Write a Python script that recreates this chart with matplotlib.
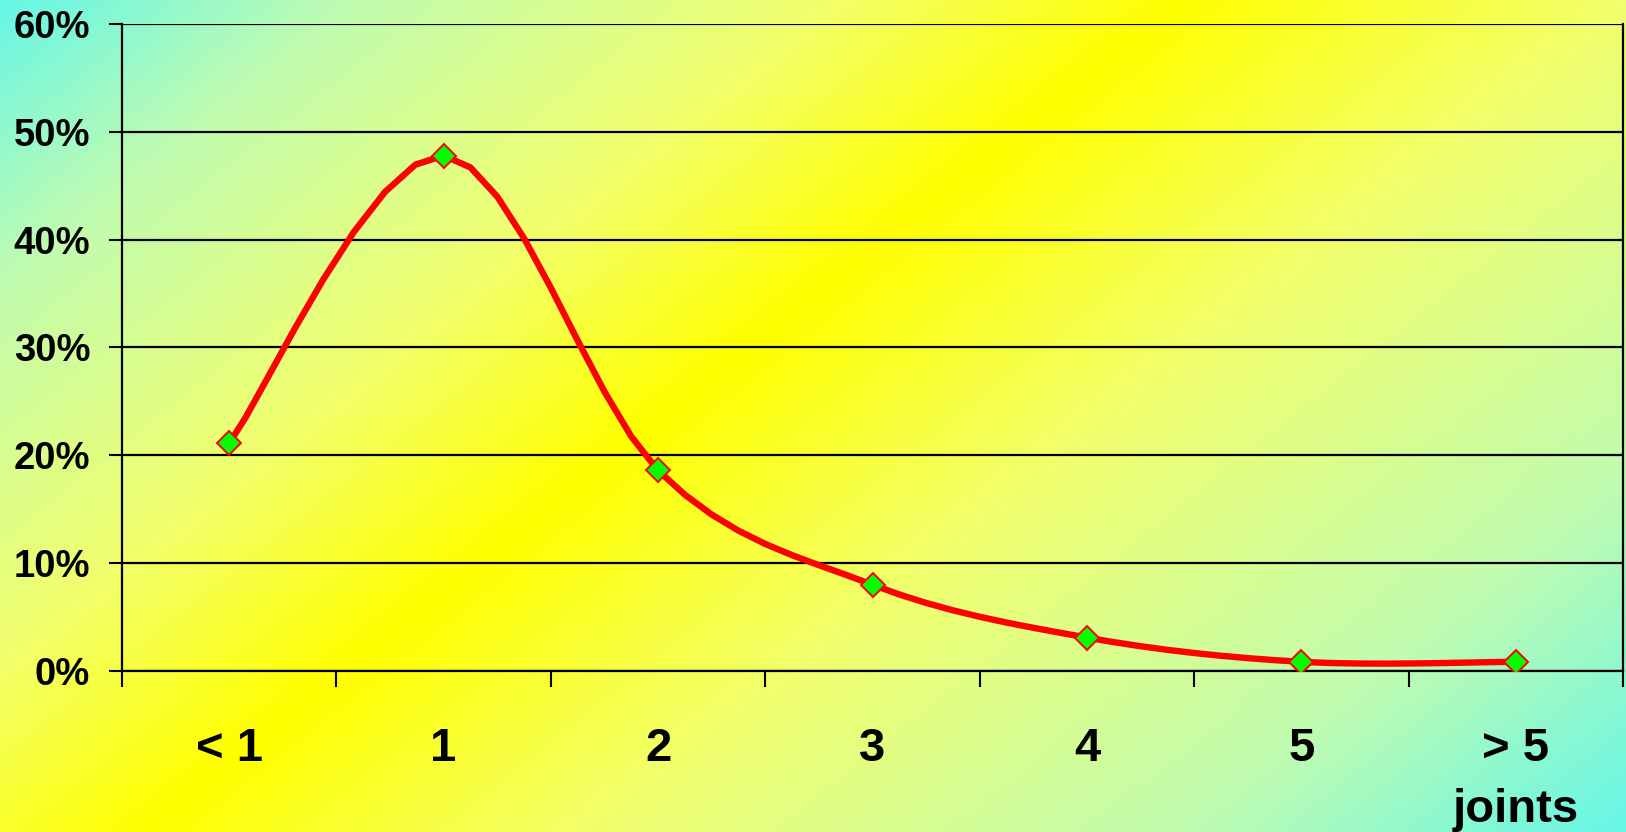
import numpy as np
import matplotlib
matplotlib.use("Agg")
import matplotlib.pyplot as plt
from matplotlib.colors import LinearSegmentedColormap
from matplotlib.ticker import FixedLocator, PercentFormatter

# Share of cases by number of joints
categories = ["< 1", "1", "2", "3", "4", "5", "> 5\njoints"]
shares = [0.211, 0.478, 0.186, 0.080, 0.031, 0.0085, 0.0085]

plt.rcParams['font.family'] = ['Liberation Sans', 'DejaVu Sans']
plt.rcParams['font.weight'] = 'bold'


def smooth_curve(xs, ys, steps=10):
    # Catmull-Rom style smoothing like office chart "smoothed line"
    xs = np.asarray(xs, float)
    ys = np.asarray(ys, float)
    px = np.concatenate([[xs[0]], xs, [xs[-1]]])
    py = np.concatenate([[ys[0]], ys, [ys[-1]]])
    out_x, out_y = [xs[0]], [ys[0]]
    for i in range(1, len(px) - 2):
        p0 = np.array([px[i], py[i]])
        p3 = np.array([px[i + 1], py[i + 1]])
        c1 = p0 + (np.array([px[i + 1], py[i + 1]]) - np.array([px[i - 1], py[i - 1]])) / 6
        c2 = p3 - (np.array([px[i + 2], py[i + 2]]) - np.array([px[i], py[i]])) / 6
        for t in np.linspace(0, 1, steps + 1)[1:]:
            pt = ((1 - t) ** 3 * p0 + 3 * (1 - t) ** 2 * t * c1
                  + 3 * (1 - t) * t ** 2 * c2 + t ** 3 * p3)
            out_x.append(pt[0])
            out_y.append(pt[1])
    return np.array(out_x), np.array(out_y)


W, H = 1626, 832
fig = plt.figure(figsize=(W / 100, H / 100), dpi=100)

# diagonal gradient background: yellow band, cyan towards the corners
bg = fig.add_axes([0, 0, 1, 1], zorder=-1)
yy, xx = np.mgrid[0:H, 0:W]
s = xx + 1.25 * yy
center = 1180
d = np.where(s < center, (center - s) / center, (s - center) / (s.max() - center))
cmap = LinearSegmentedColormap.from_list(
    "bg", [(0, "#ffff00"), (0.3, "#f2ff6c"), (0.7, "#c0fcb0"), (1, "#66f6e8")])
bg.imshow(d, cmap=cmap, vmin=0, vmax=1, aspect="auto", interpolation="bilinear")
bg.axis("off")

ax = fig.add_axes([122 / W, 1 - 671 / H, 1501 / W, 647 / H])
ax.set_facecolor("none")

x = np.arange(len(categories)) + 0.5
cx, cy = smooth_curve(x, shares, steps=8)
ax.plot(cx, cy, color="#ff0000", lw=4.6, solid_joinstyle="round", zorder=3)
ax.plot(x, shares, linestyle="none", marker="D", ms=12,
        mfc="#00ff00", mec="#ff0000", mew=1.4, zorder=4)

ax.set_xlim(0, len(categories))
ax.set_ylim(0, 0.6)

ax.yaxis.set_major_locator(FixedLocator(np.arange(0, 0.61, 0.1)))
ax.yaxis.set_major_formatter(PercentFormatter(1.0, decimals=0))
ax.grid(axis="y", color="black", lw=1.6)
ax.set_axisbelow(True)

ax.set_xticks(np.arange(len(categories) + 1))
ax.set_xticklabels([])
ax.set_xticks(x, minor=True)
ax.set_xticklabels(categories, minor=True, linespacing=1.5)

ax.tick_params(axis="x", which="major", direction="out", length=11.5,
               width=1.5, color="black")
ax.tick_params(axis="x", which="minor", length=0, pad=40, labelsize=34)
ax.tick_params(axis="y", direction="out", length=9.4, width=1.5,
               pad=13.5, labelsize=27.5)

for side in ["left", "right", "bottom"]:
    ax.spines[side].set_linewidth(1.6)
    ax.spines[side].set_color("black")
ax.spines["top"].set_visible(False)

fig.savefig("out.png", dpi=100)
